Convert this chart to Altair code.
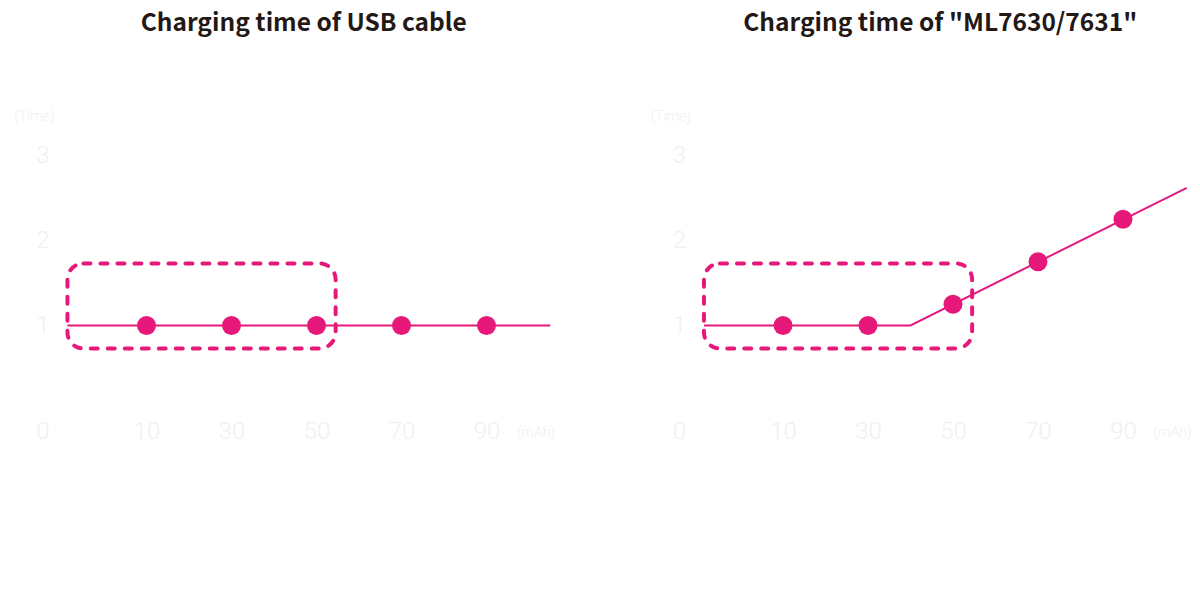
import altair as alt
import pandas as pd

# ---- data ----
point_mah = [10, 30, 50, 70, 90]
usb_time = [1, 1, 1, 1, 1]
ml_time = [1, 1, 1.25, 1.75, 2.25]

usb_line_mah = [-8.6, 105]
usb_line_time = [1, 1]
ml_line_mah = [-8.6, 40, 105]
ml_line_time = [1, 1, 2.62]

box_mah = [-8.6, 54.5]
box_time = [0.73, 1.73]

x_tick_values = [10, 30, 50, 70, 90]
y_tick_values = [-0.25, 1, 2, 3]   # the lowest one is the corner "0"

titles = ["Charging time of USB cable", 'Charging time of "ML7630/7631"']

PINK = "#e6197a"
FAINT = "#f0f0f0"
DARK = "#231815"
W = 501.5
H = 318.75


def panel(title, line_x, line_y, pts_y):
    xs = alt.Scale(domain=[-12, 106], nice=False, zero=False)
    ys = alt.Scale(domain=[-0.25, 3.5], nice=False, zero=False)
    xaxis = alt.Axis(values=x_tick_values, title="(mAh)", grid=False, domain=False,
                     ticks=False, tickSize=0, labelPadding=0, labelBaseline="middle",
                     labelFont="Roboto", labelFontWeight=300, labelFontSize=24,
                     labelColor=FAINT, titleFont="Roboto", titleFontWeight=300,
                     titleFontSize=14, titleColor=FAINT, titleX=W, titleY=1,
                     titleAlign="right", titleBaseline="middle", labelOverlap=False)
    yaxis = alt.Axis(values=y_tick_values, title="(Time)", grid=False, domain=False,
                     ticks=False, tickSize=0, labelPadding=4,
                     labelExpr="datum.value < 0 ? '0' : format(datum.value, 'd')",
                     labelFont="Roboto", labelFontWeight=300, labelFontSize=24,
                     labelColor=FAINT, titleFont="Roboto", titleFontWeight=300,
                     titleFontSize=14, titleColor=FAINT, titleAngle=0, titleX=1,
                     titleY=3, titleAlign="right", titleBaseline="middle",
                     labelOverlap=False)

    line_df = pd.DataFrame({"mah": line_x, "time": line_y})
    pts_df = pd.DataFrame({"mah": point_mah, "time": pts_y})
    box_df = pd.DataFrame({"x1": [box_mah[0]], "x2": [box_mah[1]],
                           "y1": [box_time[0]], "y2": [box_time[1]]})

    line = alt.Chart(line_df).mark_line(color=PINK, strokeWidth=2).encode(
        x=alt.X("mah:Q", scale=xs, axis=xaxis),
        y=alt.Y("time:Q", scale=ys, axis=yaxis),
    )
    pts = alt.Chart(pts_df).mark_point(filled=True, color=PINK, opacity=1, size=360).encode(
        x=alt.X("mah:Q", scale=xs),
        y=alt.Y("time:Q", scale=ys),
    )
    box = alt.Chart(box_df).mark_rect(fill="transparent", stroke=PINK, strokeWidth=4,
                                      strokeDash=[7, 10], strokeCap="round",
                                      cornerRadius=16).encode(
        x=alt.X("x1:Q", scale=xs), x2="x2:Q",
        y=alt.Y("y1:Q", scale=ys), y2="y2:Q",
    )
    return alt.layer(box, line, pts).properties(
        width=W, height=H,
        title=alt.TitleParams(title, font="Noto Sans CJK JP", fontWeight="bold",
                              fontSize=24.5, color=DARK, offset=73, anchor="middle"),
    )


left = panel(titles[0], usb_line_mah, usb_line_time, usb_time)
right = panel(titles[1], ml_line_mah, ml_line_time, ml_time)

chart = alt.hconcat(left, right, spacing=134.5, bounds="flush").properties(
    padding={"left": 5, "top": 2, "right": 0, "bottom": 0},
    background="white",
).configure_view(strokeWidth=0, stroke="transparent")

chart.save("out.html", embed_options={"renderer": "svg", "actions": False})
